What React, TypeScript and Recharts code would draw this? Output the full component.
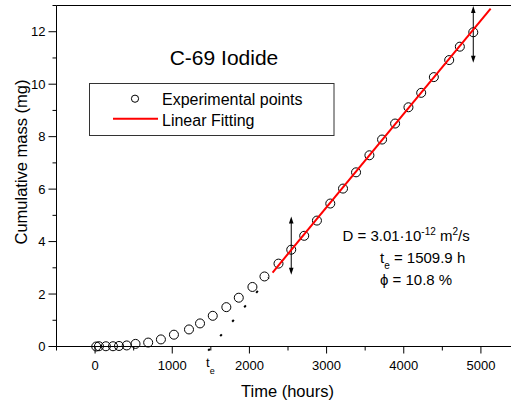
import React from 'react';
import { ComposedChart, Scatter, XAxis, YAxis, ReferenceLine } from 'recharts';

// experimental points (hours, mg)
const timeHours = [15, 50, 140, 232, 310, 410, 524, 688, 853, 1022, 1217, 1360, 1525, 1701, 1862, 2039, 2195, 2377, 2542, 2710, 2875, 3048, 3213, 3382, 3555, 3719, 3888, 4061, 4226, 4390, 4589, 4727, 4901];
const massMg = [0.0, 0.01, 0.01, 0.01, 0.02, 0.04, 0.1, 0.15, 0.27, 0.45, 0.65, 0.88, 1.17, 1.5, 1.86, 2.27, 2.67, 3.16, 3.69, 4.22, 4.8, 5.45, 6.02, 6.64, 7.29, 7.89, 8.5, 9.12, 9.67, 10.27, 10.92, 11.43, 11.98];

// linear fit (red) and its dotted extension down to t_e
const fitTime = [2300, 5126];
const fitMass = [2.82, 12.88];
const extTime = [1466, 2250];
const extMass = [-0.16, 2.62];

// double-headed arrows (time, from mass, to mass)
const arrowTime = [2542, 4901];
const arrowFrom = [2.74, 10.82];
const arrowTo = [4.96, 12.98];

const xTicks = [-500, 0, 500, 1000, 1500, 2000, 2500, 3000, 3500, 4000, 4500, 5000, 5500];
const yTicks = [0, 1, 2, 3, 4, 5, 6, 7, 8, 9, 10, 11, 12, 13];

const points = timeHours.map((t, i) => ({ t, m: massMg[i] }));
const fitLine = fitTime.map((t, i) => ({ t, m: fitMass[i] }));

const font = 'Arial, "Liberation Sans", sans-serif';

const XTick = (props: any) => {
  const { x, y, payload } = props;
  const major = payload.value % 1000 === 0;
  return (
    <g>
      <line x1={x} x2={x} y1={y} y2={y + (major ? 7 : 4)} stroke="#000" />
      {major && (
        <text x={x} y={y + 23} textAnchor="middle" fontSize={13} fontFamily={font} fill="#000">
          {payload.value}
        </text>
      )}
    </g>
  );
};

const YTick = (props: any) => {
  const { x, y, payload } = props;
  const major = payload.value % 2 === 0;
  return (
    <g>
      <line x1={x} x2={x - (major ? 8 : 4)} y1={y} y2={y} stroke="#000" />
      {major && (
        <text x={x - 11} y={y + 4.7} textAnchor="end" fontSize={13} fontFamily={font} fill="#000">
          {payload.value}
        </text>
      )}
    </g>
  );
};

const Arrow = (props: any) => {
  const { x1, y1, x2, y2 } = props;
  const top = Math.min(y1, y2);
  const bot = Math.max(y1, y2);
  return (
    <g>
      <line x1={x1} x2={x2} y1={top + 3} y2={bot - 3} stroke="#000" strokeWidth={1} />
      <polygon points={`${x1},${top} ${x1 - 2.3},${top + 7} ${x1 + 2.3},${top + 7}`} fill="#000" />
      <polygon points={`${x1},${bot} ${x1 - 2.3},${bot - 7} ${x1 + 2.3},${bot - 7}`} fill="#000" />
    </g>
  );
};

const Circle = (props: any) => (
  <circle cx={props.cx} cy={props.cy} r={4.5} fill="none" stroke="#000" strokeWidth={1} />
);

const Nothing = () => <g />;

export default function App() {
  return (
    <div style={{ position: 'absolute', left: 0, top: 0, width: 530, height: 405, background: '#fff' }}>
      <ComposedChart width={530} height={405} margin={{ top: 5.5, right: 10.5, left: 0, bottom: 0 }}>
        <XAxis
          type="number"
          dataKey="t"
          domain={[-500, 5500]}
          ticks={xTicks}
          interval={0}
          height={58.5}
          tickSize={0}
          tickMargin={0}
          tickLine={false}
          axisLine={{ stroke: '#000' }}
          tick={(p: any) => <XTick {...p} />}
        />
        <YAxis
          type="number"
          dataKey="m"
          domain={[0, 13]}
          ticks={yTicks}
          interval={0}
          width={56.5}
          tickSize={0}
          tickMargin={0}
          tickLine={false}
          axisLine={{ stroke: '#000' }}
          tick={(p: any) => <YTick {...p} />}
        />
        <ReferenceLine y={13} stroke="#000" strokeWidth={1} />
        <ReferenceLine
          segment={[{ x: extTime[0], y: extMass[0] }, { x: extTime[1], y: extMass[1] }]}
          stroke="#000"
          strokeWidth={2}
          strokeDasharray="2.5 16.3"
          ifOverflow="visible"
        />
        {arrowTime.map((t, i) => (
          <ReferenceLine
            key={i}
            segment={[{ x: t, y: arrowFrom[i] }, { x: t, y: arrowTo[i] }]}
            ifOverflow="visible"
            shape={(p: any) => <Arrow {...p} />}
          />
        ))}
        <Scatter data={points} shape={Circle} isAnimationActive={false} />
        <Scatter
          data={fitLine}
          shape={Nothing}
          line={{ stroke: '#ff0000', strokeWidth: 2 }}
          lineType="joint"
          isAnimationActive={false}
        />
      </ComposedChart>
      <svg
        width={530}
        height={405}
        style={{ position: 'absolute', left: 0, top: 0, pointerEvents: 'none' }}
        fontFamily={font}
      >
        <text x={224} y={64.5} textAnchor="middle" fontSize={21} fill="#000">C-69 Iodide</text>

        <rect x={89.5} y={83.5} width={244.5} height={52} fill="#fff" stroke="#333" strokeWidth={1} />
        <circle cx={135} cy={98.7} r={3.6} fill="none" stroke="#000" strokeWidth={1} />
        <text x={162} y={104.5} fontSize={16} fill="#000">Experimental points</text>
        <line x1={113} x2={158} y1={118.7} y2={118.7} stroke="#ff0000" strokeWidth={2} />
        <text x={162} y={125.5} fontSize={16} fill="#000">Linear Fitting</text>

        <text x={342.5} y={240.7} fontSize={15} fill="#000">
          D = 3.01·10<tspan fontSize={10} dy={-6}>-12</tspan>
          <tspan dy={6}> m</tspan>
          <tspan fontSize={10} dy={-6}>2</tspan>
          <tspan dy={6}>/s</tspan>
        </text>
        <text x={380} y={263} fontSize={15} fill="#000">
          t<tspan fontSize={10} dy={6}>e</tspan>
          <tspan dy={-6}> = 1509.9 h</tspan>
        </text>
        <text x={380} y={284.5} fontSize={15} fill="#000">ϕ = 10.8 %</text>

        <text x={206} y={366.5} fontSize={13} fill="#000">
          t<tspan fontSize={9} dy={7}>e</tspan>
        </text>
        <text x={287.5} y={396.7} textAnchor="middle" fontSize={16.5} fill="#000">Time (hours)</text>
        <text
          x={26.5}
          y={162}
          textAnchor="middle"
          fontSize={16.5}
          fill="#000"
          transform="rotate(-90 26.5 162)"
        >
          Cumulative mass (mg)
        </text>
      </svg>
    </div>
  );
}
